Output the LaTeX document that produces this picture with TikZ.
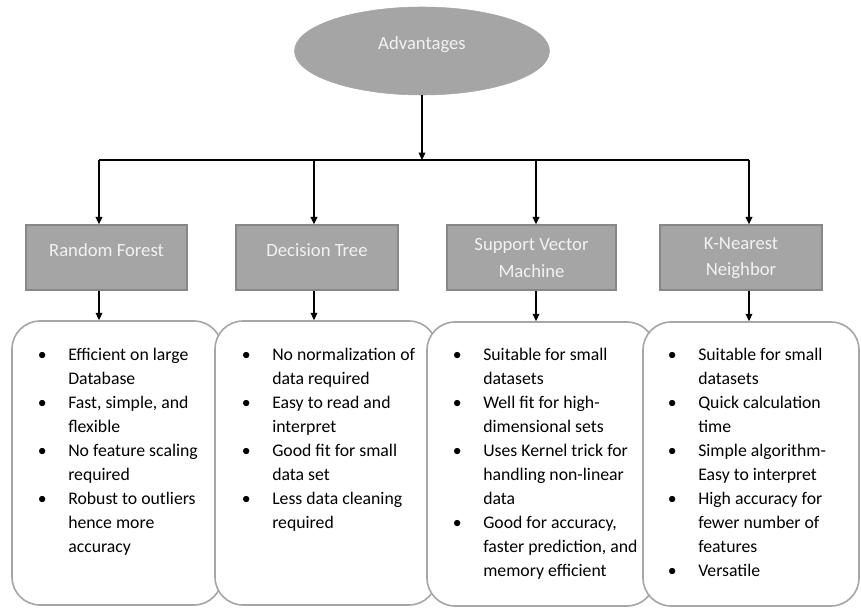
\documentclass[tikz,border=0pt]{standalone}
\usepackage{fontspec}
\setmainfont{Carlito}
\usetikzlibrary{shapes.geometric,arrows.meta}
\definecolor{hdrfill}{HTML}{A5A5A5}
\definecolor{hdrdraw}{HTML}{878787}
\definecolor{hdrtext}{HTML}{F2F2F2}
\definecolor{listdraw}{HTML}{A6A6A6}
\newcommand{\bi}{\leavevmode\llap{\makebox[39pt][c]{\textbullet}}}
\newcommand{\lst}[1]{\parbox[t]{170pt}{\fontsize{13.3pt}{18pt}\selectfont #1}}
\begin{document}
\begin{tikzpicture}[x=0.75pt,y=-0.75pt,
  hdrbox/.style={draw=hdrdraw, fill=hdrfill, line width=1pt, minimum height=48.75pt, inner sep=0pt},
  hdrtxt/.style={text=hdrtext, font=\fontsize{14pt}{20pt}\selectfont, align=center, inner sep=0pt},
  listbox/.style={draw=listdraw, fill=white, line width=1.2pt, rounded corners=21pt, minimum height=213pt, inner sep=0pt},
  listtxt/.style={anchor=base west, inner sep=0pt},
  arr/.style={-{Triangle[length=5.5pt,width=5pt]}, line width=0.9pt, black}]
\useasboundingbox (0,0) rectangle (861,609);

% root
\node[ellipse, fill=hdrfill, draw=hdrfill, minimum width=191.25pt, minimum height=66pt, inner sep=0pt] (adv) at (422,51) {};
\node[hdrtxt] (advt) at (422,45) {Advantages};

% bus
\coordinate (bus) at (422,160);
\coordinate (cRF) at (99,160);
\coordinate (cDT) at (314,160);
\coordinate (cSVM) at (536,160);
\coordinate (cKNN) at (749,160);

% header boxes
\node[hdrbox, minimum width=120.75pt] (rf) at (106.5,257.5) {};
\node[hdrbox, minimum width=121.5pt] (dt) at (317,257.5) {};
\node[hdrbox, minimum width=126.75pt] (svm) at (531.5,257.5) {};
\node[hdrbox, minimum width=121.5pt] (knn) at (741,257.5) {};
\node[hdrtxt] (rft) at (106.5,250) {Random Forest};
\node[hdrtxt] (dtt) at (317,250) {Decision Tree};
\node[hdrtxt] (svmt) at (531.5,258) {Support Vector\\Machine};
\node[hdrtxt] (knnt) at (741,258) {K-Nearest\\Neighbor};

% list boxes
\node[listbox, minimum width=157.5pt] (rfl) at (117,463) {};
\node[listbox, minimum width=166.5pt] (dtl) at (326,463) {};
\node[listbox, minimum width=171pt] (svml) at (541,464) {};
\node[listbox, minimum width=162pt] (knnl) at (751,464) {};

% connectors
\draw[arr] (adv.south) -- (bus);
\draw[line width=0.9pt] (cRF) -- (cKNN);
\draw[arr] (cRF) -- (cRF |- rf.north);
\draw[arr] (cDT) -- (cDT |- dt.north);
\draw[arr] (cSVM) -- (cSVM |- svm.north);
\draw[arr] (cKNN) -- (cKNN |- knn.north);
\draw[arr] (cRF |- rf.south) -- (cRF |- rfl.north);
\draw[arr] (cDT |- dt.south) -- (cDT |- dtl.north);
\draw[arr] (cSVM |- svm.south) -- (cSVM |- svml.north);
\draw[arr] (cKNN |- knn.south) -- (cKNN |- knnl.north);

% list texts
\node[listtxt] (rfx) at (68,361) {\lst{\bi Efficient on large\\ Database\\ \bi Fast, simple, and\\ flexible\\ \bi No feature scaling\\ required\\ \bi Robust to outliers\\ hence more\\ accuracy}};
\node[listtxt] (dtx) at (272,361) {\lst{\bi No normalization of\\ data required\\ \bi Easy to read and\\ interpret\\ \bi Good fit for small\\ data set\\ \bi Less data cleaning\\ required}};
\node[listtxt] (svmx) at (483,361) {\lst{\bi Suitable for small\\ datasets\\ \bi Well fit for high-\\ dimensional sets\\ \bi Uses Kernel trick for\\ handling non-linear\\ data\\ \bi Good for accuracy,\\ faster prediction, and\\ memory efficient}};
\node[listtxt] (knnx) at (698,361) {\lst{\bi Suitable for small\\ datasets\\ \bi Quick calculation\\ time\\ \bi Simple algorithm-\\ Easy to interpret\\ \bi High accuracy for\\ fewer number of\\ features\\ \bi Versatile}};
\end{tikzpicture}
\end{document}
